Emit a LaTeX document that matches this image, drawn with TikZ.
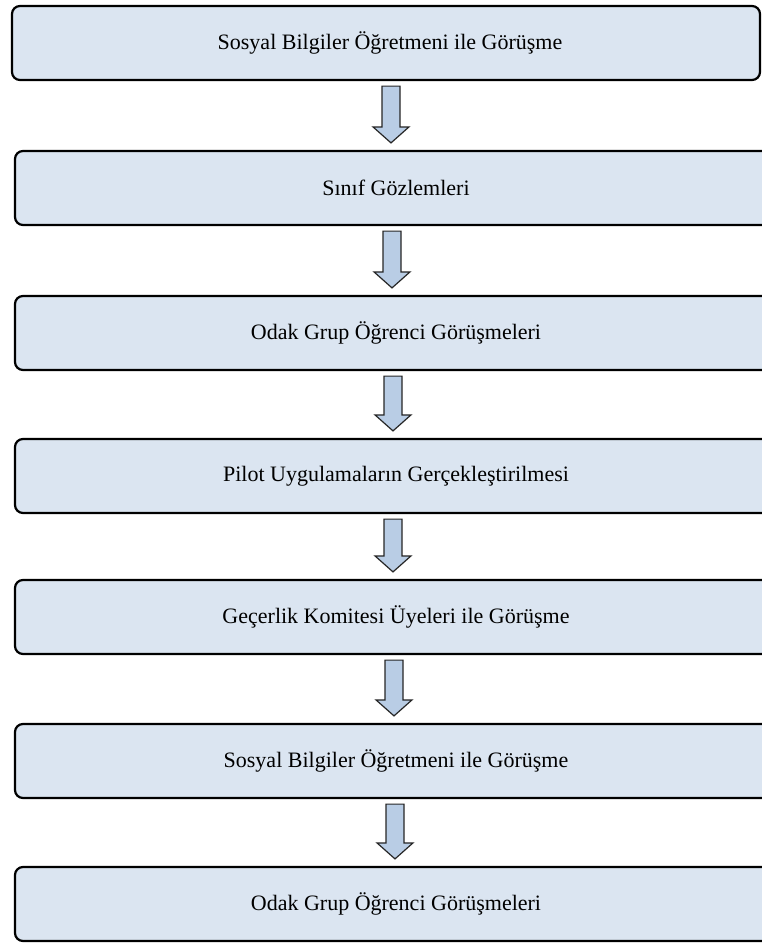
\documentclass[tikz,border=0pt]{standalone}
\usepackage{fontspec}
\setmainfont{Liberation Serif}
\usetikzlibrary{calc}
\definecolor{boxfill}{HTML}{DBE5F1}
\definecolor{arrfill}{HTML}{B9CDE5}
\tikzset{
  stepbox/.style={draw=black, line width=2.2bp, rounded corners=8bp, fill=boxfill,
    minimum height=74bp, minimum width=762bp, inner sep=0pt,
    font=\fontsize{22bp}{26bp}\selectfont},
  blockarr/.style={draw=black!85, line width=1.2bp, fill=arrfill, line join=miter}
}
\newcommand\blockarrow[3]{%
  \filldraw[blockarr]
    ($(#1.south -| #2.north)+(#3-9,5)$) -- ($(#1.south -| #2.north)+(#3+9,5)$) --
    ($(#2.north)+(#3+9,-23)$) -- ($(#2.north)+(#3+18,-23)$) --
    ($(#2.north)+(#3,-7)$) -- ($(#2.north)+(#3-18,-23)$) --
    ($(#2.north)+(#3-9,-23)$) -- cycle;}
\begin{document}
\begin{tikzpicture}[x=1bp,y=-1bp]
  \useasboundingbox (0,0) rectangle (762,943);
  \node[stepbox, minimum width=748bp] (b1) at (386,43) {\hspace*{8bp}Sosyal Bilgiler Öğretmeni ile Görüşme};
  \node[stepbox] (b2) at (396,188) {Sınıf Gözlemleri};
  \node[stepbox] (b3) at (396,333) {Odak Grup Öğrenci Görüşmeleri};
  \node[stepbox] (b4) at (396,476) {Pilot Uygulamaların Gerçekleştirilmesi};
  \node[stepbox] (b5) at (396,617) {Geçerlik Komitesi Üyeleri ile Görüşme};
  \node[stepbox] (b6) at (396,761) {Sosyal Bilgiler Öğretmeni ile Görüşme};
  \node[stepbox] (b7) at (396,904) {Odak Grup Öğrenci Görüşmeleri};
  \blockarrow{b1}{b2}{-5}
  \blockarrow{b2}{b3}{-4}
  \blockarrow{b3}{b4}{-3}
  \blockarrow{b4}{b5}{-3}
  \blockarrow{b5}{b6}{-2}
  \blockarrow{b6}{b7}{-1}
\end{tikzpicture}
\end{document}
